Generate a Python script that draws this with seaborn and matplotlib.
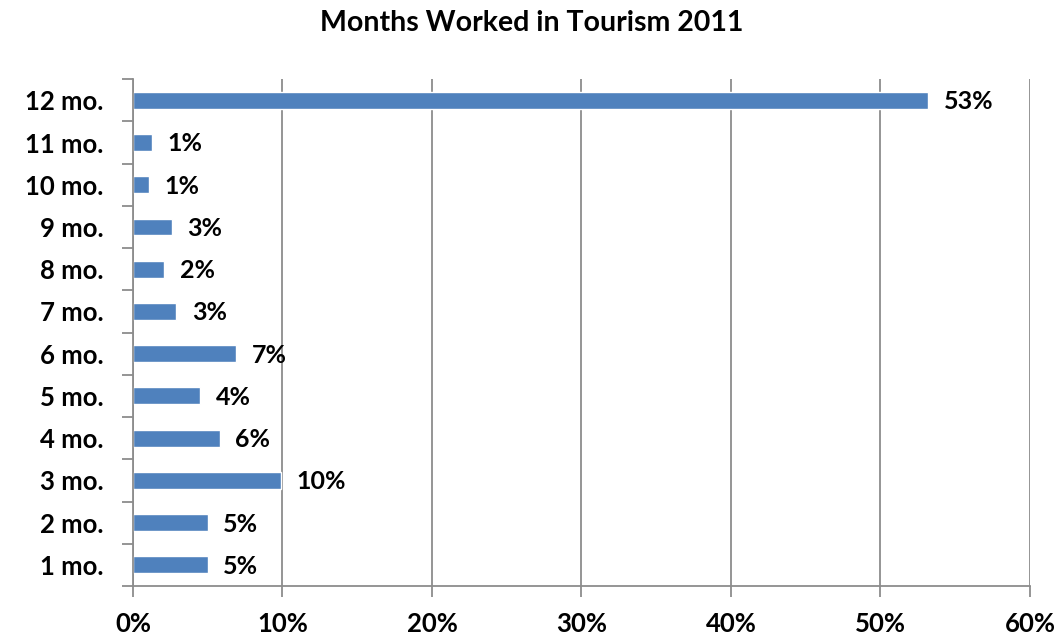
import numpy as np
import pandas as pd
import seaborn as sb
import matplotlib.pyplot as plt
from matplotlib.ticker import FixedLocator, PercentFormatter

# data (top to bottom)
months = ["12 mo.", "11 mo.", "10 mo.", "9 mo.", "8 mo.", "7 mo.",
          "6 mo.", "5 mo.", "4 mo.", "3 mo.", "2 mo.", "1 mo."]
share = [53.2, 1.3, 1.1, 2.6, 2.1, 2.9, 6.9, 4.5, 5.8, 9.9, 5.0, 5.0]
x_ticks = [0, 10, 20, 30, 40, 50, 60]

df = pd.DataFrame({"month": months, "share": share})

sb.set_style("white")
plt.rcParams["font.family"] = ["Lato", "DejaVu Sans"]
plt.rcParams["font.weight"] = "bold"
plt.rcParams["text.color"] = "black"
plt.rcParams["xtick.labelcolor"] = "black"
plt.rcParams["ytick.labelcolor"] = "black"

fig = plt.figure(figsize=(10.64, 6.39), dpi=100)
ax = fig.add_axes([0.125, 0.083, 0.843, 0.793])

sb.barplot(data=df, x="share", y="month", order=months, orient="h",
           color="#4F81BD", saturation=1, width=0.4, ax=ax)

for i, v in enumerate(share):
    ax.annotate(f"{v:.0f}%", xy=(v, i), xytext=(11, -1), textcoords="offset points",
                ha="left", va="center", fontsize=18, fontweight="bold")

ax.set_xlim(0, 60)
ax.set_ylim(len(months) - 0.5, -0.5)
ax.xaxis.set_major_locator(FixedLocator(x_ticks))
ax.xaxis.set_major_formatter(PercentFormatter(decimals=0))
ax.grid(axis="x", color="#8c8c8c", linewidth=1.3)
ax.set_axisbelow(True)

ax.yaxis.set_minor_locator(FixedLocator(np.arange(-0.5, len(months), 1)))
ax.tick_params(axis="y", which="major", length=0, pad=21, labelsize=18.5)
ax.tick_params(axis="y", which="minor", length=8, width=1.3, color="#8c8c8c",
               direction="out", left=True)
ax.tick_params(axis="x", which="major", length=8, width=1.3, color="#8c8c8c",
               direction="out", bottom=True, pad=11, labelsize=18.5)

for side in ["top", "right"]:
    ax.spines[side].set_visible(False)
for side in ["left", "bottom"]:
    ax.spines[side].set_color("#8c8c8c")
    ax.spines[side].set_linewidth(1.3)

ax.set_xlabel("")
ax.set_ylabel("")
for lab in ax.get_xticklabels() + ax.get_yticklabels():
    lab.set_fontweight("bold")

fig.suptitle("Months Worked in Tourism 2011", y=0.985, fontsize=20.5, fontweight="bold")

fig.savefig("out.png", dpi=100)
